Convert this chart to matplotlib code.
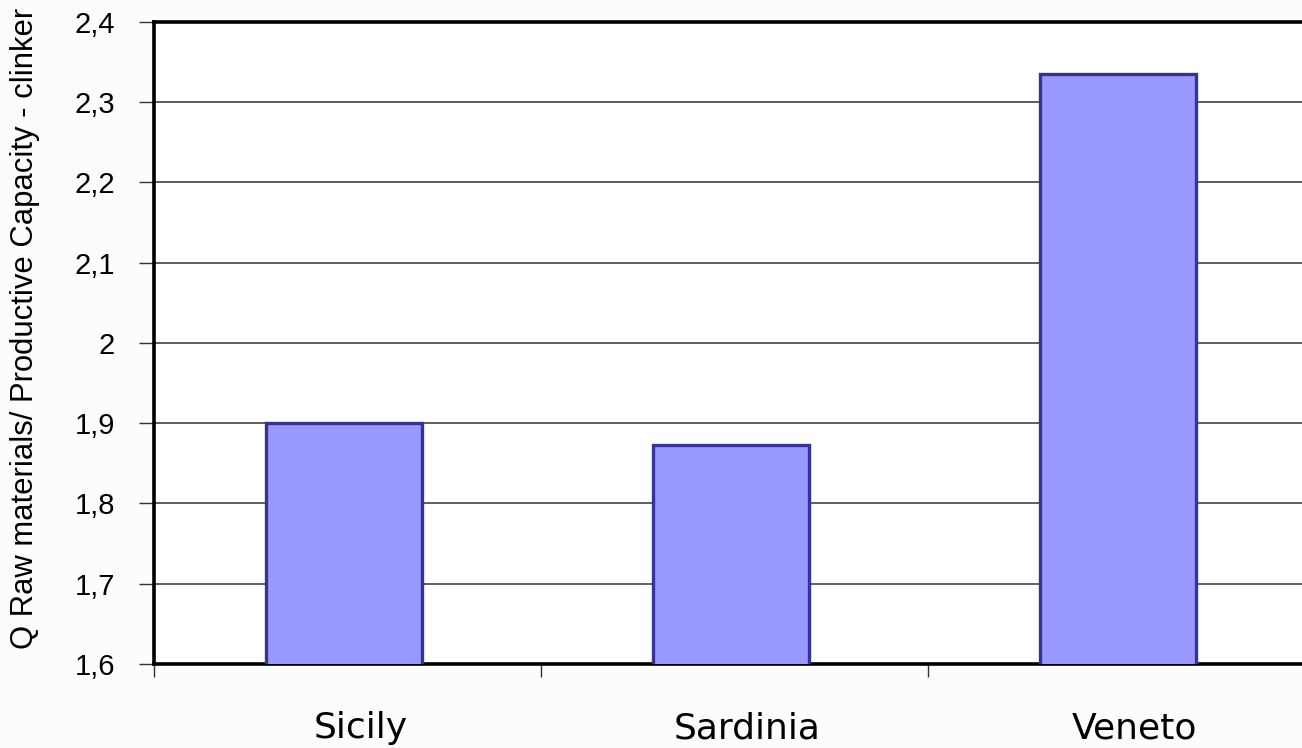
import matplotlib.pyplot as plt
import matplotlib.transforms as mtransforms
import numpy as np

regions = ["Sicily", "Sardinia", "Veneto"]
ratio = [1.90, 1.873, 2.335]
yticks = [1.6, 1.7, 1.8, 1.9, 2.0, 2.1, 2.2, 2.3, 2.4]
ytick_labels = ["1,6", "1,7", "1,8", "1,9", "2", "2,1", "2,2", "2,3", "2,4"]

fig = plt.figure(figsize=(13.02, 7.48), dpi=100, facecolor="#fcfcfc")
ax = fig.add_axes([0.1183, 0.1123, 0.8917, 0.8583], facecolor="white")

x = np.arange(len(regions))
ax.bar(x - 0.009, ratio, width=0.405, bottom=0, color="#9999ff", edgecolor="#333399",
       linewidth=2.4, zorder=3)

ax.set_xlim(-0.5, 2.5)
ax.set_ylim(1.6, 2.4)

# horizontal grid at every tick
for yv in yticks[1:-1]:
    ax.axhline(yv, color="#333333", lw=1.1, zorder=1)

ax.set_yticks(yticks)
ax.set_yticklabels(ytick_labels, family="Liberation Sans", fontsize=21)
ax.tick_params(axis="y", direction="out", length=11, width=1, color="#333333", pad=17)

ax.set_xticks(x)
ax.set_xticklabels(regions, family="DejaVu Sans", fontsize=26)
ax.tick_params(axis="x", which="major", length=0, pad=34)
shift = mtransforms.ScaledTranslation(13 / 100, 0, fig.dpi_scale_trans)
for lbl in ax.get_xticklabels():
    lbl.set_transform(lbl.get_transform() + shift)
ax.set_xticks(np.arange(-0.5, 2.5, 1.0), minor=True)
ax.tick_params(axis="x", which="minor", direction="out", length=9, width=1, color="#333333")

ax.set_ylabel("Q Raw materials/ Productive Capacity - clinker",
              family="Liberation Sans", fontsize=22.3)
ax.yaxis.set_label_coords(-0.098, 0.522)

for side in ["left", "bottom", "top"]:
    ax.spines[side].set_linewidth(2.6)
    ax.spines[side].set_color("black")
ax.spines["right"].set_visible(False)

fig.savefig("out.png", dpi=100, facecolor=fig.get_facecolor())
